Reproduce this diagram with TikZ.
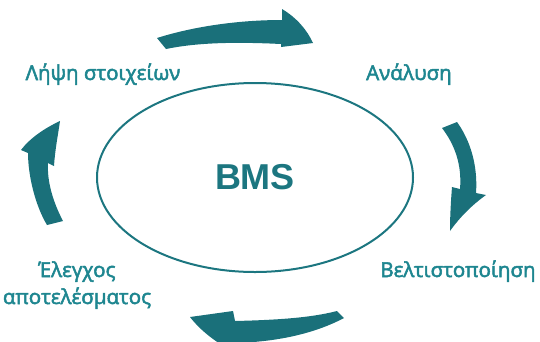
\documentclass[tikz,border=0pt]{standalone}
\usepackage{fontspec}
\setmainfont[FakeBold=2.5]{Open Sans}
\newfontfamily\bmsfont{Liberation Sans}
\usetikzlibrary{shapes.geometric}
\definecolor{arrowteal}{RGB}{26,112,122}
\definecolor{textteal}{RGB}{30,134,144}
\definecolor{lineteal}{RGB}{28,118,128}
\begin{document}
\begin{tikzpicture}[x=1pt,y=-1pt,
  steplabel/.style={text=textteal,font=\fontsize{20.5}{27}\selectfont,inner sep=0pt},
  cyclearrow/.style={fill=arrowteal,draw=none}]
\useasboundingbox (0,0) rectangle (540,341);
% central ellipse
\node[ellipse,draw=lineteal,line width=2pt,minimum width=316pt,minimum height=189pt,
      inner sep=0pt,text=lineteal,font=\bmsfont\bfseries\fontsize{36}{40}\selectfont]
      (bms) at (255,177.5) {BMS};
% labels
\node[steplabel,anchor=base] (lipsi) at (103,80) {Λήψη στοιχείων};
\node[steplabel,anchor=base] (analysi) at (409,80) {Ανάλυση};
\node[steplabel,anchor=base] (veltist) at (458,277) {Βελτιστοποίηση};
\node[steplabel,anchor=base,align=center] (elegxos) at (77,304) {Έλεγχος\\αποτελέσματος};
% top arrow
\path[cyclearrow] (157,38) .. controls (195,26) and (240,20) .. (282,20)
  -- (282,9) .. controls (297,18) and (307,30) .. (313,43)
  -- (281,47) -- (281,44) .. controls (240,42) and (200,42) .. (166,49) -- cycle;
% right arrow
\path[cyclearrow] (442,128) -- (457,122) .. controls (470,140) and (478,165) .. (476,193)
  -- (486,195) .. controls (472,205) and (460,217) .. (450,231)
  .. controls (450,215) and (451,200) .. (452,187)
  -- (460,189) .. controls (462,165) and (455,145) .. (442,128) -- cycle;
% bottom arrow
\path[cyclearrow] (190,317) -- (233,311) -- (235,321) .. controls (275,320) and (310,318) .. (337,311)
  -- (344,318) .. controls (310,336) and (270,342) .. (235,343)
  -- (234,352) .. controls (215,342) and (200,330) .. (190,317) -- cycle;
% left arrow
\path[cyclearrow] (60,121) .. controls (45,128) and (30,138) .. (21,150)
  -- (28,153) .. controls (28,175) and (35,205) .. (47,225)
  -- (63,221) .. controls (52,200) and (47,180) .. (48,163)
  -- (54,166) .. controls (55,150) and (58,135) .. (60,121) -- cycle;
\end{tikzpicture}
\end{document}
